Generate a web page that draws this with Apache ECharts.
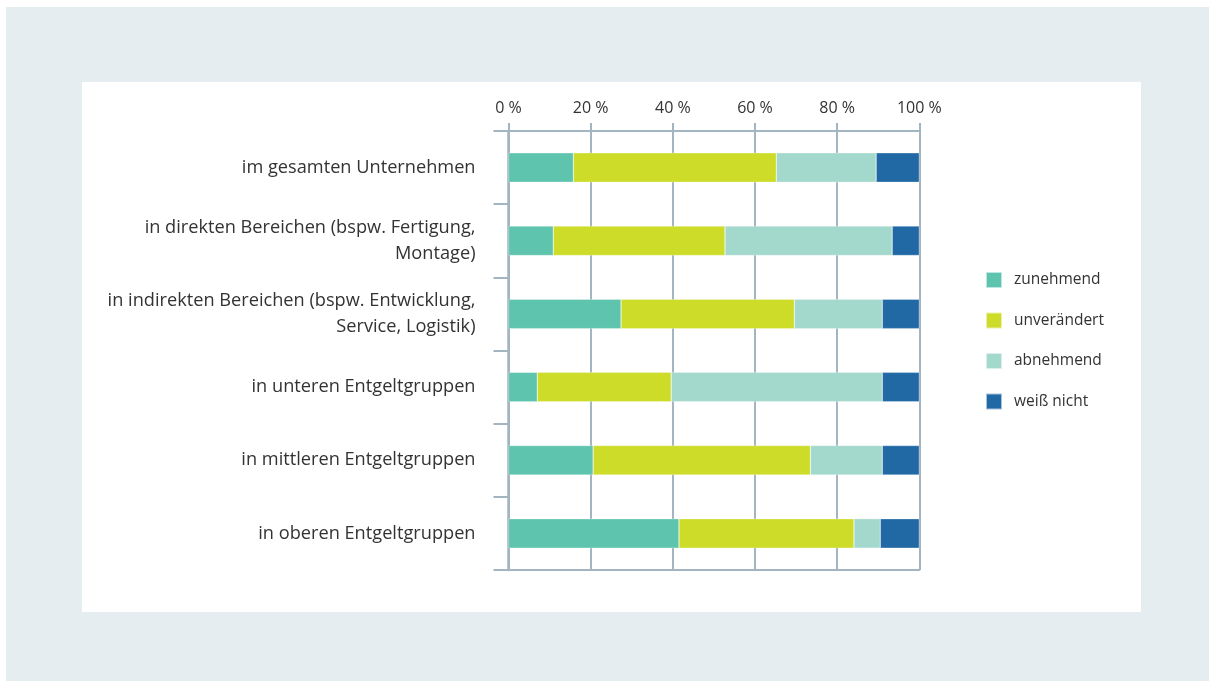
<!DOCTYPE html>
<html>
<head>
<meta charset="utf-8">
<style>
  html, body { margin: 0; padding: 0; background: #ffffff; }
  #chart { width: 1209px; height: 681px; }
</style>
<script src="https://cdn.jsdelivr.net/npm/echarts@6/dist/echarts.min.js"></script>
</head>
<body>
<div id="chart"></div>
<script>
// Bereiche (rows, top to bottom)
const categories = [
  'im gesamten Unternehmen',
  'in direkten Bereichen (bspw. Fertigung,\nMontage)',
  'in indirekten Bereichen (bspw. Entwicklung,\nService, Logistik)',
  'in unteren Entgeltgruppen',
  'in mittleren Entgeltgruppen',
  'in oberen Entgeltgruppen'
];

// Anteile in Prozent
const zunehmend    = [15.8, 10.9, 27.4, 7.0, 20.6, 41.5];
const unveraendert = [49.4, 41.8, 42.2, 32.6, 52.9, 42.6];
const abnehmend    = [24.3, 40.7, 21.4, 51.4, 17.5, 6.4];
const weissNicht   = [10.5, 6.6, 9.0, 9.0, 9.0, 9.5];

const seriesNames = ['zunehmend', 'unverändert', 'abnehmend', 'weiß nicht'];
const seriesColors = ['#5ec4ae', '#cddc29', '#a3d8cc', '#2169a5'];
const seriesData = [zunehmend, unveraendert, abnehmend, weissNicht];

const axisGrey = '#a3b5c0';
const textColor = '#333333';
const fontFamily = '"Open Sans", Lato, sans-serif';

const chart = echarts.init(document.getElementById('chart'), null, { renderer: 'canvas' });

chart.setOption({
  animation: false,
  textStyle: { fontFamily: fontFamily },
  graphic: [
    { type: 'rect', z: -10, shape: { x: 6, y: 7, width: 1203, height: 674 }, style: { fill: '#e5edf0' } },
    { type: 'rect', z: -9, shape: { x: 82, y: 82, width: 1059, height: 530 }, style: { fill: '#ffffff' } }
  ],
  legend: {
    orient: 'vertical',
    left: 985,
    top: 271,
    padding: 0,
    icon: 'rect',
    itemWidth: 16,
    itemHeight: 16,
    itemGap: 22.5,
    selectedMode: false,
    textStyle: { fontSize: 15.5, lineHeight: 16, color: textColor, fontFamily: fontFamily, padding: [0, 0, 0, 7] },
    data: seriesNames
  },
  grid: {
    left: 508.5,
    right: 289.7,
    top: 131,
    bottom: 111,
    containLabel: false
  },
  xAxis: [
    {
      type: 'value',
      position: 'top',
      min: 0,
      max: 100,
      interval: 20,
      axisLine: { show: true, lineStyle: { color: axisGrey, width: 2 } },
      axisTick: { show: true, length: 8, lineStyle: { color: axisGrey, width: 2 } },
      splitLine: { show: true, lineStyle: { color: axisGrey, width: 2 } },
      axisLabel: {
        margin: 15,
        fontSize: 16,
        color: textColor,
        fontFamily: fontFamily,
        formatter: v => v + ' %'
      }
    },
    {
      type: 'value',
      position: 'bottom',
      min: 0,
      max: 100,
      axisLine: { show: true, lineStyle: { color: axisGrey, width: 2 } },
      axisTick: { show: false },
      splitLine: { show: false },
      axisLabel: { show: false }
    }
  ],
  yAxis: {
    type: 'category',
    inverse: true,
    data: categories,
    axisLine: { show: true, lineStyle: { color: axisGrey, width: 2.5 } },
    axisTick: { show: true, length: 15, lineStyle: { color: axisGrey, width: 2 } },
    axisLabel: {
      margin: 33,
      fontSize: 18.2,
      lineHeight: 26,
      padding: [9, 0, 0, 0],
      color: textColor,
      fontFamily: fontFamily,
      align: 'right'
    }
  },
  series: seriesNames.map((name, i) => ({
    name: name,
    type: 'bar',
    stack: 'gesamt',
    xAxisIndex: 0,
    barWidth: 29.5,
    itemStyle: { color: seriesColors[i], borderColor: 'rgba(255,255,255,0.6)', borderWidth: 0.5 },
    data: seriesData[i]
  }))
});
</script>
</body>
</html>
